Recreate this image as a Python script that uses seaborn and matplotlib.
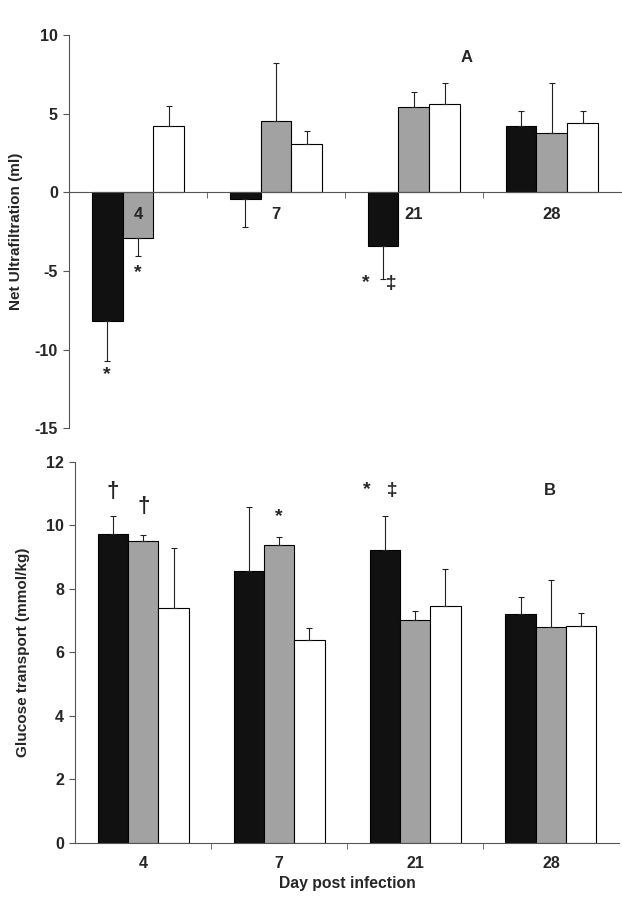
import numpy as np
import pandas as pd
import matplotlib
matplotlib.use("Agg")
import matplotlib.pyplot as plt
import seaborn as sns

days = ["4", "7", "21", "28"]
groups = ["black", "gray", "white"]

# panel A: net ultrafiltration (ml), mean and one-sided SD
uf_black = [-8.2, -0.4, -3.4, 4.25]
uf_gray = [-2.9, 4.55, 5.4, 3.8]
uf_white = [4.2, 3.1, 5.6, 4.4]
uf_black_sd = [2.5, 1.8, 2.1, 0.95]
uf_gray_sd = [1.15, 3.65, 1.0, 3.15]
uf_white_sd = [1.3, 0.8, 1.35, 0.8]

# panel B: glucose transport (mmol/kg)
gt_black = [9.74, 8.57, 9.23, 7.2]
gt_gray = [9.51, 9.38, 7.03, 6.81]
gt_white = [7.41, 6.39, 7.46, 6.83]
gt_black_sd = [0.55, 2.0, 1.07, 0.53]
gt_gray_sd = [0.17, 0.24, 0.27, 1.46]
gt_white_sd = [1.87, 0.38, 1.15, 0.4]

# significance marks: (day index, group, symbol, y in data units)
uf_marks = [(0, "black", "*", -11.6), (0, "gray", "*", -5.1), (2, "black", "*   ‡", -5.8)]
gt_marks = [(0, "black", "†", 11.07), (0, "gray", "†", 10.6), (1, "gray", "*", 10.27),
            (2, "black", "*   ‡", 11.1)]

colors = {"black": "#111111", "gray": "#a2a2a2", "white": "#ffffff"}

sns.set_style("ticks")
plt.rcParams["font.family"] = ["Liberation Sans", "DejaVu Sans"]
plt.rcParams["font.weight"] = "bold"


def make_df(vals, sds):
    rows = []
    for g, v, s in zip(groups, vals, sds):
        for d, vv, ss in zip(days, v, s):
            rows.append({"day": d, "group": g, "value": vv, "sd": ss})
    return pd.DataFrame(rows)


def draw(ax, df):
    sns.barplot(data=df, x="day", y="value", hue="group", order=days,
                hue_order=groups, palette=colors, width=0.67, gap=0,
                edgecolor="black", linewidth=0.8, errorbar=None,
                legend=False, ax=ax)
    centers = {}
    for g, cont in zip(groups, ax.containers):
        sub = df[df.group == g].set_index("day").loc[days]
        for d, bar, v, s in zip(days, cont, sub.value, sub.sd):
            xc = bar.get_x() + bar.get_width() / 2
            centers[(d, g)] = xc
            yerr = [[0], [s]] if v >= 0 else [[s], [0]]
            ax.errorbar(xc, v, yerr=yerr, fmt="none", ecolor="#222222",
                        elinewidth=0.8, capsize=2, capthick=0.8)
    return centers


def put_marks(ax, centers, marks):
    for i, g, s, y in marks:
        xc = centers[(days[i], g)]
        if "‡" in s:
            xc = xc - 0.03
        size = 16 if s == "†" else 14
        ax.text(xc, y, s, ha="center", va="center", fontsize=size, fontweight="bold")


fig = plt.figure(figsize=(6.22, 9), dpi=100)
axA = fig.add_axes([0.111, 0.524, 0.887, 0.437])
axB = fig.add_axes([0.121, 0.0633, 0.874, 0.4237])

dfA = make_df([uf_black, uf_gray, uf_white], [uf_black_sd, uf_gray_sd, uf_white_sd])
dfB = make_df([gt_black, gt_gray, gt_white], [gt_black_sd, gt_gray_sd, gt_white_sd])

cA = draw(axA, dfA)
cB = draw(axB, dfB)

for ax in (axA, axB):
    sns.despine(ax=ax)
    ax.set_xlim(-0.5, 3.5)
    ax.spines["left"].set_color("#555555")
    ax.spines["bottom"].set_color("#555555")
    ax.spines["left"].set_linewidth(0.8)
    ax.spines["bottom"].set_linewidth(0.8)
    ax.set_xticks([0.5, 1.5, 2.5], minor=True)
    ax.tick_params(axis="x", which="minor", length=4, color="#555555", direction="out")
    ax.tick_params(axis="x", which="major", length=0)
    ax.tick_params(axis="y", length=4, color="#555555", labelsize=11.5, pad=4)

# panel A
axA.set_ylim(-15, 10)
axA.set_yticks([-15, -10, -5, 0, 5, 10])
axA.set_yticklabels(["-15", "-10", "-5", "0", "5", "10"], fontweight="bold")
axA.spines["bottom"].set_position(("data", 0))
axA.tick_params(axis="x", which="major", labelbottom=False)
axA.set_xlabel("")
axA.set_ylabel("Net Ultrafiltration (ml)", fontsize=11, fontweight="bold", labelpad=8)
for i, d in enumerate(days):
    axA.text(i, -1.4, d, ha="center", va="center", fontsize=12, fontweight="bold")
put_marks(axA, cA, uf_marks)
axA.text(2.38, 8.6, "A", ha="center", va="center", fontsize=12, fontweight="bold")

# panel B
axB.set_ylim(0, 12)
axB.set_yticks(np.arange(0, 13, 2))
axB.set_yticklabels([str(v) for v in range(0, 13, 2)], fontweight="bold")
axB.set_xticks(range(len(days)))
axB.set_xticklabels(days, fontsize=11.5, fontweight="bold")
axB.tick_params(axis="x", which="major", pad=9)
axB.set_xlabel("Day post infection", fontsize=11.3, fontweight="bold", labelpad=4)
axB.set_ylabel("Glucose transport (mmol/kg)", fontsize=11, fontweight="bold", labelpad=12)
put_marks(axB, cB, gt_marks)
axB.text(2.99, 11.1, "B", ha="center", va="center", fontsize=12, fontweight="bold")

fig.savefig("out.png", dpi=100)
